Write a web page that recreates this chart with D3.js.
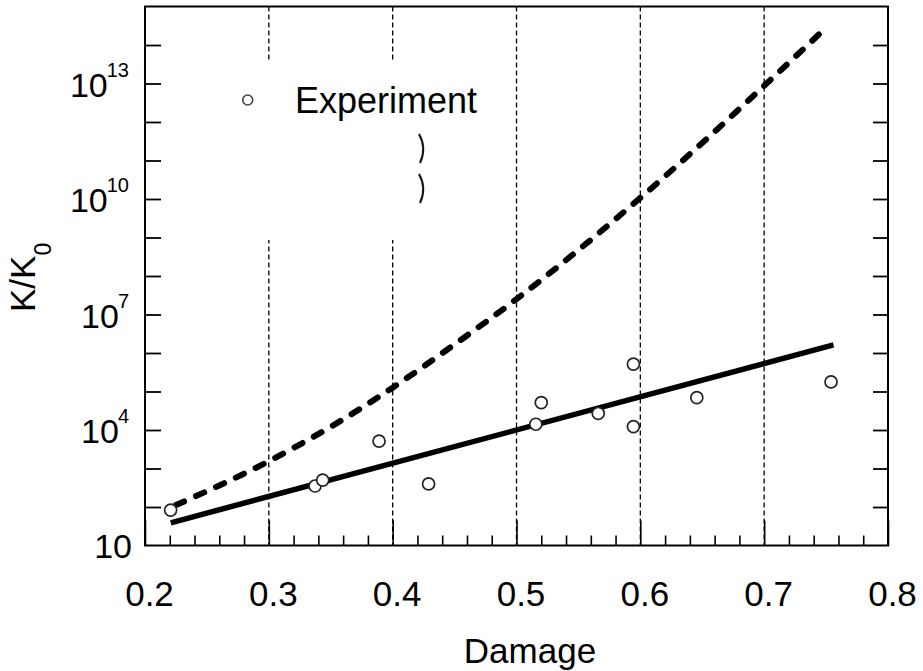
<!DOCTYPE html>
<html>
<head>
<meta charset="utf-8">
<script src="https://cdn.jsdelivr.net/npm/d3@7"></script>
<style>
  html, body { margin: 0; padding: 0; background: #fff; }
  svg { display: block; font-family: "Liberation Sans", Arial, sans-serif; }
</style>
</head>
<body>
<div id="chart"></div>
<script>
'use strict';

// Experimental points : damage and log10(K/K0)
const expDamage = [0.2207, 0.3373, 0.3435, 0.389, 0.429, 0.5156, 0.520, 0.566, 0.5944, 0.5944, 0.6456, 0.754];
const expLogK = [1.92, 2.545, 2.70, 3.71, 2.60, 4.15, 4.71, 4.43, 5.71, 4.09, 4.84, 5.25];

// Solid model line (straight in log space, so only its two ends)
const solidDamage = [0.2208, 0.756];
const solidLogK = [1.59, 6.21];

// Dashed model curve
const dashDamage = [0.225, 0.3, 0.355, 0.4, 0.452, 0.5, 0.557, 0.6, 0.659, 0.7, 0.747];
const dashLogK = [2.05, 3.19, 4.18, 5.10, 6.27, 7.40, 8.86, 10.03, 11.72, 12.94, 14.36];

// Axis ticks
const xLabels = [0.2, 0.3, 0.4, 0.5, 0.6, 0.7, 0.8];
const xGrid = [0.3, 0.4, 0.5, 0.6, 0.7];
const yLabelExps = [1, 4, 7, 10, 13];
const yTickExps = [2, 3, 4, 5, 6, 7, 8, 9, 10, 11, 12, 13, 14];

const width = 923, height = 671;
// plot box in pixels
const box = { left: 145, right: 888, top: 6.5, bottom: 545.5 };

const svg = d3.select('#chart').append('svg')
  .attr('width', width)
  .attr('height', height);

const x = d3.scaleLinear().domain([0.2, 0.8]).range([box.left, box.right]);
const y = d3.scaleLog().domain([10, 1e15]).range([box.bottom, box.top]);

// Vertical dashed grid lines
svg.append('g').selectAll('line')
  .data(xGrid)
  .join('line')
  .attr('x1', d => x(d)).attr('x2', d => x(d))
  .attr('y1', box.top).attr('y2', box.bottom)
  .attr('stroke', '#000')
  .attr('stroke-width', 1.3)
  .attr('stroke-dasharray', '5,3');

// Legend box hides part of the grid
svg.append('rect')
  .attr('x', 222).attr('y', 60)
  .attr('width', 190).attr('height', 180)
  .attr('fill', '#fff');

// Legend
svg.append('circle')
  .attr('cx', 247.7).attr('cy', 100).attr('r', 5)
  .attr('fill', '#fff').attr('stroke', '#444').attr('stroke-width', 1.6);
svg.append('text')
  .attr('x', 295).attr('y', 113)
  .style('font-size', '36px')
  .text('Experiment');
// leftovers of the legend line samples
svg.append('g').selectAll('path')
  .data([134, 174])
  .join('path')
  .attr('d', d => `M419,${d} Q427,${d + 14} 420,${d + 29}`)
  .attr('fill', 'none')
  .attr('stroke', '#111')
  .attr('stroke-width', 2);

// Bottom ticks (inside)
const minorTicks = d3.range(0.22, 0.8, 0.02).filter(v => Math.abs(v * 10 - Math.round(v * 10)) > 0.01);
svg.append('g')
  .attr('transform', `translate(0, ${box.bottom})`)
  .call(d3.axisBottom(x).tickValues(minorTicks).tickSize(-10).tickFormat(''))
  .call(g => g.select('.domain').remove())
  .selectAll('line').attr('stroke-width', 1.6);

const xAxis = svg.append('g')
  .attr('transform', `translate(0, ${box.bottom})`)
  .call(d3.axisBottom(x).tickValues(xLabels).tickSize(-25).tickFormat(d3.format('.1f')));
xAxis.select('.domain').remove();
xAxis.selectAll('line').attr('stroke-width', 1.6);
xAxis.selectAll('text')
  .attr('y', 60).attr('dy', 0).attr('x', 4)
  .attr('fill', '#000')
  .style('font-size', '35px')
  .style('font-family', '"Liberation Sans", Arial, sans-serif');

// Left and right ticks (inside)
const decades = yTickExps.map(e => Math.pow(10, e));
svg.append('g')
  .attr('transform', `translate(${box.left}, 0)`)
  .call(d3.axisLeft(y).tickValues(decades).tickSize(-16).tickFormat(''))
  .call(g => g.select('.domain').remove())
  .selectAll('line').attr('stroke-width', 1.8);
svg.append('g')
  .attr('transform', `translate(${box.right}, 0)`)
  .call(d3.axisRight(y).tickValues(decades).tickSize(-15).tickFormat(''))
  .call(g => g.select('.domain').remove())
  .selectAll('line').attr('stroke-width', 1.8);

// Y tick labels, 10 with a tight superscript
const yLabels = svg.append('g');
yLabelExps.forEach(e => {
  const ty = y(Math.pow(10, e));
  if (e === 1) {
    yLabels.append('text')
      .attr('x', 132).attr('y', ty + 12)
      .attr('text-anchor', 'end')
      .style('font-size', '34px')
      .text('10');
    return;
  }
  const base = yLabels.append('text')
    .attr('y', ty + 13)
    .attr('text-anchor', 'end')
    .style('font-size', '34px')
    .text('10');
  const sup = yLabels.append('text')
    .attr('x', 129).attr('y', ty - 7)
    .attr('text-anchor', 'end')
    .style('font-size', '20px')
    .text(e);
  const supWidth = sup.node().getComputedTextLength();
  base.attr('x', 129 - supWidth + 1);
});

// Y axis title
const yTitle = svg.append('text')
  .attr('transform', 'translate(35, 312) rotate(-90)')
  .style('font-size', '35px');
yTitle.append('tspan').text('K/K');
yTitle.append('tspan').attr('dy', 16).style('font-size', '23px').text('0');

// X axis title
svg.append('text')
  .attr('x', 530).attr('y', 663)
  .attr('text-anchor', 'middle')
  .style('font-size', '35px')
  .text('Damage');

// Model curves
const dashData = dashDamage.map((d, i) => ({ d: d, k: Math.pow(10, dashLogK[i]) }));
const solidData = solidDamage.map((d, i) => ({ d: d, k: Math.pow(10, solidLogK[i]) }));

svg.append('path')
  .datum(dashData)
  .attr('d', d3.line().curve(d3.curveMonotoneX).x(p => x(p.d)).y(p => y(p.k)))
  .attr('fill', 'none')
  .attr('stroke', '#000')
  .attr('stroke-width', 6)
  .attr('stroke-linecap', 'round')
  .attr('stroke-dasharray', '9,13');

svg.append('path')
  .datum(solidData)
  .attr('d', d3.line().x(p => x(p.d)).y(p => y(p.k)))
  .attr('fill', 'none')
  .attr('stroke', '#000')
  .attr('stroke-width', 5.5);

// Experimental points
svg.append('g').selectAll('circle')
  .data(expDamage.map((d, i) => ({ d: d, k: Math.pow(10, expLogK[i]) })))
  .join('circle')
  .attr('cx', p => x(p.d))
  .attr('cy', p => y(p.k))
  .attr('r', 6)
  .attr('fill', '#fff')
  .attr('stroke', '#222')
  .attr('stroke-width', 1.7);

// Frame
svg.append('rect')
  .attr('x', box.left).attr('y', box.top)
  .attr('width', box.right - box.left).attr('height', box.bottom - box.top)
  .attr('fill', 'none')
  .attr('stroke', '#000')
  .attr('stroke-width', 2);
</script>
</body>
</html>
